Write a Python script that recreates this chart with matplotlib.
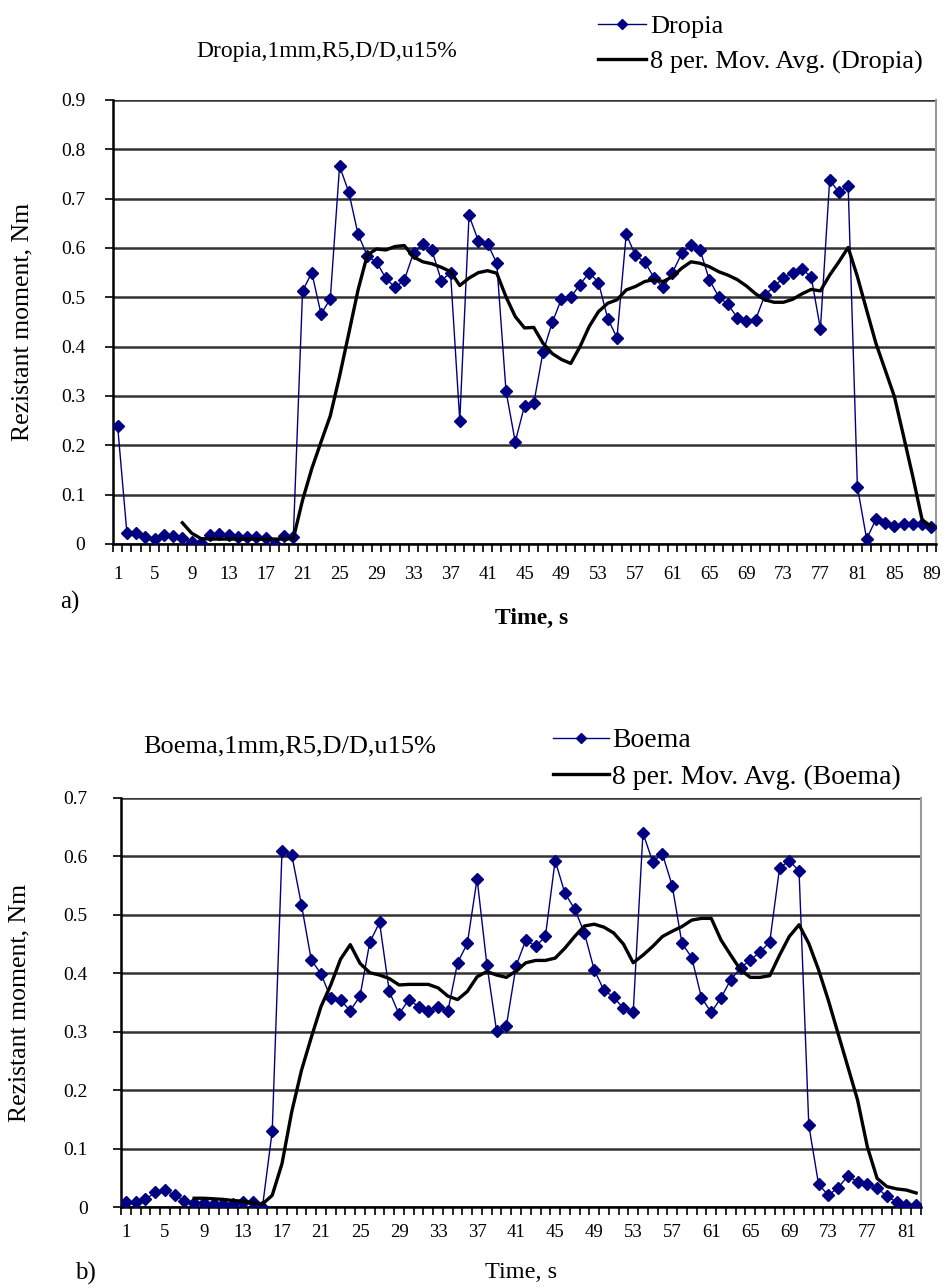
import matplotlib
matplotlib.use("Agg")
import matplotlib.pyplot as plt
from matplotlib.lines import Line2D
from matplotlib.ticker import FuncFormatter, MultipleLocator, FixedLocator

plt.rcParams['font.family'] = ['Liberation Serif', 'DejaVu Serif']

# ---------------- data: chart a) Dropia ----------------
dropia_time = list(range(1, 90))
dropia = [0.239, 0.023, 0.023, 0.015, 0.010, 0.018, 0.016, 0.012, 0.005, 0.003,
          0.018, 0.020, 0.018, 0.015, 0.015, 0.015, 0.012, 0.000, 0.017, 0.015,
          0.513, 0.550, 0.466, 0.497, 0.766, 0.713, 0.628, 0.584, 0.571, 0.539,
          0.520, 0.535, 0.590, 0.608, 0.595, 0.534, 0.550, 0.250, 0.666, 0.615,
          0.609, 0.569, 0.310, 0.207, 0.280, 0.285, 0.389, 0.449, 0.497, 0.500,
          0.526, 0.550, 0.530, 0.457, 0.418, 0.628, 0.585, 0.572, 0.540, 0.520,
          0.550, 0.589, 0.607, 0.595, 0.535, 0.501, 0.486, 0.459, 0.452, 0.455,
          0.505, 0.522, 0.540, 0.550, 0.557, 0.542, 0.436, 0.738, 0.713, 0.726,
          0.116, 0.010, 0.050, 0.042, 0.037, 0.040, 0.040, 0.040, 0.034]
dropia_ma_time = list(range(8, 90))
dropia_ma = [0.043, 0.022, 0.011, 0.010, 0.010, 0.010, 0.010, 0.010, 0.010, 0.010,
             0.010, 0.010, 0.011, 0.089, 0.153, 0.207, 0.260, 0.340, 0.427, 0.515,
             0.586, 0.598, 0.596, 0.603, 0.605, 0.582, 0.572, 0.568, 0.561, 0.552,
             0.524, 0.539, 0.550, 0.554, 0.549, 0.501, 0.461, 0.438, 0.439, 0.407,
             0.386, 0.374, 0.366, 0.400, 0.441, 0.471, 0.488, 0.495, 0.515, 0.522,
             0.532, 0.536, 0.532, 0.542, 0.559, 0.572, 0.569, 0.562, 0.552, 0.545,
             0.536, 0.523, 0.507, 0.495, 0.490, 0.490, 0.496, 0.507, 0.516, 0.513,
             0.545, 0.572, 0.601, 0.542, 0.474, 0.407, 0.353, 0.299, 0.218, 0.136,
             0.049, 0.035]

# ---------------- data: chart b) Boema ----------------
boema_time = list(range(1, 83))
boema = [0.009, 0.009, 0.013, 0.025, 0.029, 0.020, 0.011, 0.007, 0.006, 0.005,
         0.005, 0.005, 0.009, 0.009, 0.000, 0.130, 0.609, 0.603, 0.517, 0.423,
         0.399, 0.358, 0.354, 0.336, 0.361, 0.453, 0.487, 0.369, 0.330, 0.355,
         0.343, 0.335, 0.343, 0.335, 0.418, 0.451, 0.562, 0.415, 0.301, 0.310,
         0.413, 0.457, 0.446, 0.463, 0.593, 0.537, 0.510, 0.469, 0.406, 0.371,
         0.359, 0.340, 0.333, 0.640, 0.591, 0.604, 0.550, 0.451, 0.427, 0.358,
         0.333, 0.358, 0.389, 0.409, 0.423, 0.436, 0.454, 0.580, 0.593, 0.575,
         0.140, 0.039, 0.020, 0.033, 0.053, 0.043, 0.039, 0.033, 0.018, 0.009,
         0.003, 0.003]
boema_ma_time = list(range(8, 83))
boema_ma = [0.015, 0.015, 0.014, 0.013, 0.011, 0.010, 0.007, 0.005, 0.020, 0.074,
            0.163, 0.234, 0.290, 0.343, 0.380, 0.424, 0.449, 0.417, 0.401, 0.397,
            0.391, 0.380, 0.381, 0.381, 0.381, 0.375, 0.361, 0.355, 0.369, 0.394,
            0.403, 0.397, 0.393, 0.404, 0.418, 0.422, 0.422, 0.426, 0.443, 0.463,
            0.481, 0.484, 0.479, 0.469, 0.450, 0.418, 0.431, 0.446, 0.463, 0.472,
            0.480, 0.491, 0.494, 0.494, 0.457, 0.431, 0.406, 0.393, 0.393, 0.396,
            0.431, 0.463, 0.483, 0.451, 0.406, 0.354, 0.297, 0.240, 0.183, 0.103,
            0.049, 0.035, 0.031, 0.029, 0.024]

W, H = 944, 1287
fig = plt.figure(figsize=(W / 100, H / 100), dpi=100)

BLUE = '#000080'


def fmt(v, pos):
    return '0' if abs(v) < 1e-9 else '%.1f' % v


def make_axes(rect, t, y, mt, my, n, ymax, ylab_pad, xt_pad, yt_pad):
    ax = fig.add_axes(rect)
    ax.plot(t, y, color=BLUE, lw=1.0, marker='D', ms=6.5, mfc=BLUE, mec=BLUE,
            zorder=3)
    ax.plot(mt, my, color='black', lw=2.4, zorder=4)
    ax.set_xlim(0.5, n + 0.5)
    ax.set_ylim(0, ymax)
    ax.yaxis.set_major_locator(MultipleLocator(0.1))
    ax.yaxis.set_major_formatter(FuncFormatter(fmt))
    ax.xaxis.set_major_locator(FixedLocator(list(range(1, n + 1, 4))))
    ax.xaxis.set_minor_locator(FixedLocator([i + 0.5 for i in range(0, n + 1)]))
    ax.tick_params(axis='x', which='major', length=0, pad=xt_pad, labelsize=13.5)
    ax.tick_params(axis='x', which='minor', length=6, width=1.2, direction='out')
    ax.tick_params(axis='y', length=6, width=1.2, direction='out', pad=yt_pad,
                   labelsize=14)
    ax.grid(axis='y', color='#333333', lw=1.8)
    ax.set_axisbelow(True)
    for s in ('left', 'bottom'):
        ax.spines[s].set_linewidth(1.8)
        ax.spines[s].set_color('black')
    ax.spines['right'].set_color('#999999')
    ax.spines['right'].set_linewidth(1.5)
    ax.spines['top'].set_visible(False)
    ax.set_ylabel('Rezistant moment, Nm', fontsize=18.5, labelpad=ylab_pad)
    return ax


# ---------- chart a ----------
ax1 = make_axes([113 / W, 1 - 544 / H, 823 / W, 444 / H],
                dropia_time, dropia, dropia_ma_time, dropia_ma, 89, 0.9,
                ylab_pad=20, xt_pad=16, yt_pad=14)
fig.text(327 / W, 1 - 52 / H, 'Dropia,1mm,R5,D/D,u15%', fontsize=17,
         ha='center', va='center')
fig.text(532 / W, 1 - 618 / H, 'Time, s', fontsize=17, fontweight='bold',
         ha='center', va='center')
fig.text(60 / W, 1 - 602 / H, 'a)', fontsize=18, ha='left', va='center')

h1 = [Line2D([], [], color=BLUE, lw=1.0, marker='D', ms=5.5),
      Line2D([], [], color='black', lw=2.4)]
fig.legend(h1, ['Dropia', '8 per. Mov. Avg. (Dropia)'], loc='upper left',
           bbox_to_anchor=(598 / W, 1 - 15 / H), frameon=False, fontsize=19,
           handlelength=1.82, handletextpad=0.15, labelspacing=0.43,
           borderaxespad=0, borderpad=0)

# ---------- chart b ----------
ax2 = make_axes([121 / W, 1 - 1207 / H, 800 / W, 409 / H],
                boema_time, boema, boema_ma_time, boema_ma, 82, 0.7,
                ylab_pad=24, xt_pad=12, yt_pad=18)
fig.text(290 / W, 1 - 746 / H, 'Boema,1mm,R5,D/D,u15%', fontsize=19,
         ha='center', va='center')
fig.text(521 / W, 1 - 1272 / H, 'Time, s', fontsize=17.5,
         ha='center', va='center')
fig.text(75 / W, 1 - 1273 / H, 'b)', fontsize=18, ha='left', va='center')

h2 = [Line2D([], [], color=BLUE, lw=1.0, marker='D', ms=5.5),
      Line2D([], [], color='black', lw=2.4)]
fig.legend(h2, ['Boema', '8 per. Mov. Avg. (Boema)'], loc='upper left',
           bbox_to_anchor=(553 / W, 1 - 728 / H), frameon=False, fontsize=20,
           handlelength=2.0, handletextpad=0.12, labelspacing=0.40,
           borderaxespad=0, borderpad=0)

fig.savefig('out.png', dpi=100)
